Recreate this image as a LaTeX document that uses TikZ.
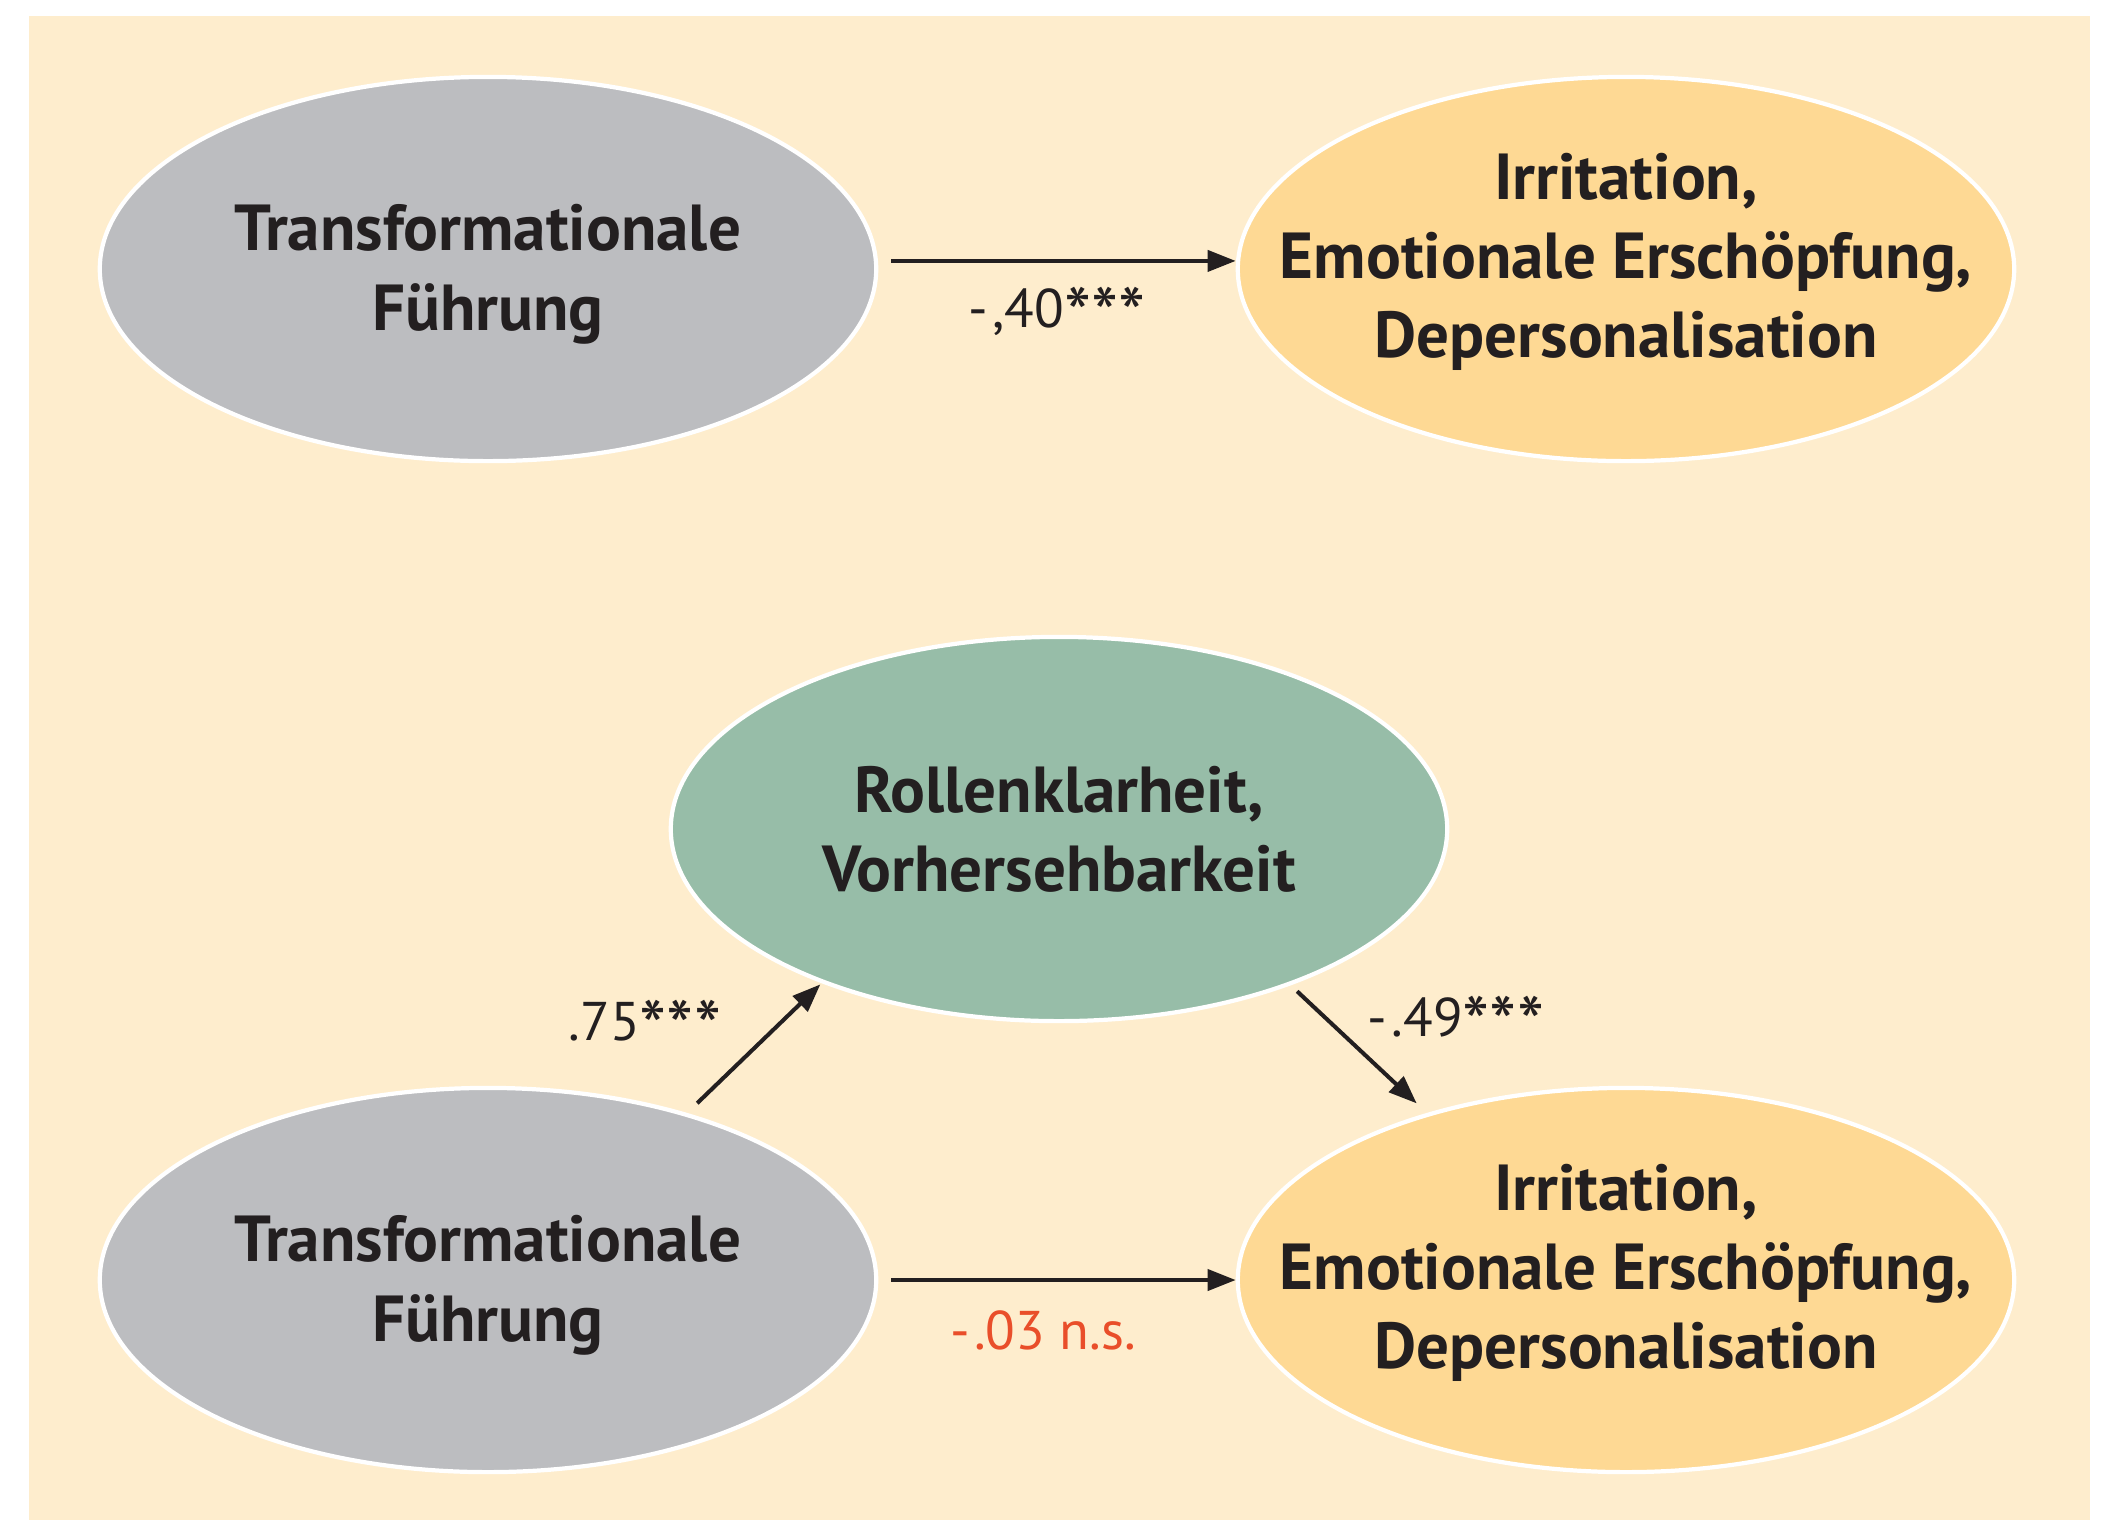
\documentclass[tikz,border=0pt]{standalone}
\usepackage{fontspec}
\setmainfont{PT Sans}
\usetikzlibrary{shapes.geometric,arrows.meta}

\definecolor{bgbeige}{HTML}{FEEDCD}
\definecolor{ellgray}{HTML}{BCBDC0}
\definecolor{ellyellow}{HTML}{FED994}
\definecolor{ellgreen}{HTML}{97BDA8}
\definecolor{ink}{HTML}{231F20}
\definecolor{nsred}{HTML}{E94E2A}
\newcommand{\stern}{\raisebox{-0.28em}{\fontsize{22}{22}\selectfont*}}

\begin{document}
\begin{tikzpicture}[x=0.01cm,y=-0.01cm,>={Triangle[length=8pt,width=6pt]},
  ell/.style={ellipse,draw=white,line width=1.2pt,minimum width=7.76cm,minimum height=3.84cm,inner sep=0pt},
  elltext/.style={align=center,text=ink,font=\bfseries\fontsize{18.5}{22.5}\selectfont},
  coef/.style={text=ink,font=\fontsize{15.5}{17}\selectfont},
  link/.style={->,draw=ink,line width=1.15pt}]
  \useasboundingbox (0,0) rectangle (2108,1520);
  \fill[white] (0,0) rectangle (2108,1520);
  \fill[bgbeige] (29,16) rectangle (2090,1520);

  % total effect
  \node[ell,fill=ellgray] (tf1) at (488,269) {};
  \node[elltext] (tf1t) at ([yshift=-1.5pt]tf1) {Transformationale\\Führung};
  \node[ell,fill=ellyellow] (ir1) at (1626,269) {};
  \node[elltext] (ir1t) at ([yshift=2pt]ir1) {Irritation,\\Emotionale Erschöpfung,\\Depersonalisation};
  \draw[link,shorten <=3.7pt] ([yshift=2.3pt]tf1.east) -- ([yshift=2.3pt]ir1.west);
  \node[coef] (c1) at (1057,315) {-{}\kern0.08em,40\stern\stern\stern};

  % mediation
  \node[ell,fill=ellgreen] (rk) at (1059,829) {};
  \node[elltext] (rkt) at (rk) {Rollenklarheit,\\Vorhersehbarkeit};
  \node[ell,fill=ellgray] (tf2) at (488,1280) {};
  \node[elltext] (tf2t) at ([yshift=-1.5pt]tf2) {Transformationale\\Führung};
  \node[ell,fill=ellyellow] (ir2) at (1626,1280) {};
  \node[elltext] (ir2t) at ([yshift=2pt]ir2) {Irritation,\\Emotionale Erschöpfung,\\Depersonalisation};
  \draw[link,shorten <=4pt,shorten >=0.5pt] (tf2.40) -- (rk.213);
  \draw[link,shorten <=2.5pt,shorten >=4pt] (rk.-34) -- (ir2.140);
  \draw[link,shorten <=3.7pt] (tf2) -- (ir2);
  \node[coef] (c2) at (645,1028) {.75\stern\stern\stern};
  \node[coef] (c3) at (1456,1024) {-{}\kern0.08em.49\stern\stern\stern};
  \node[coef,text=nsred] (c4) at (1043,1330) {-{}\kern0.08em.03 n.s.};
\end{tikzpicture}
\end{document}
